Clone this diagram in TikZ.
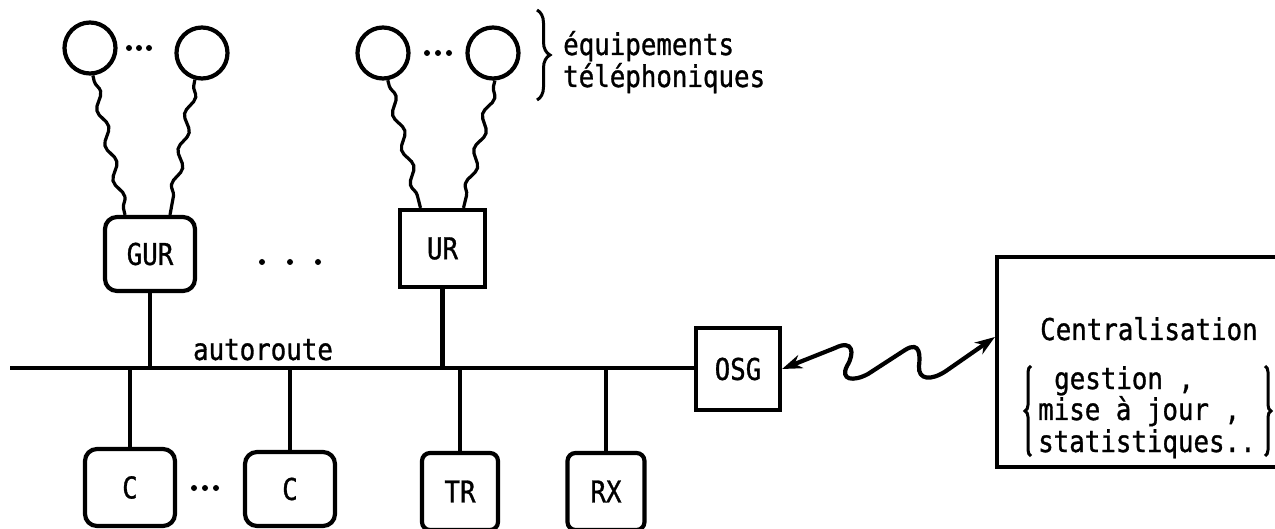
\documentclass[tikz,border=0pt]{standalone}
\usepackage{fontspec}
\newfontfamily\lblfont[FakeStretch=0.86,FakeBold=1]{DejaVu Sans Mono}
\usetikzlibrary{arrows.meta,decorations.pathmorphing,decorations.pathreplacing}
\tikzset{
  lw/.style={line width=4.2pt},
  lbl/.style={font=\lblfont\fontsize{30pt}{31pt}\selectfont, inner sep=0pt},
  rbox/.style={draw, line width=4.2pt, rounded corners=12pt, inner sep=0pt, font=\lblfont\fontsize{30pt}{31pt}\selectfont},
  sbox/.style={draw, line width=4.2pt, inner sep=0pt, font=\lblfont\fontsize{30pt}{31pt}\selectfont},
  equip/.style={draw, circle, line width=4.2pt, minimum size=51pt, inner sep=0pt},
  wire/.style={line width=3.2pt, decorate, decoration={snake, segment length=36pt, amplitude=4pt, pre length=6pt, post length=6pt}},
  link/.style={line width=4.2pt, {Stealth[length=20pt,width=14pt]}-{Stealth[length=20pt,width=14pt]}},
  dot/.style={circle, fill, inner sep=0pt, minimum size=6pt},
  bracel/.style={line width=3pt, decorate, decoration={brace, amplitude=#1}},
}
\begin{document}
\begin{tikzpicture}[x=1pt,y=-1pt]
\useasboundingbox (0,0) rectangle (1275,529);

% telephone equipment
\node[equip] (c1) at (90,48) {};
\node[equip] (c2) at (202,53) {};
\node[equip] (c3) at (383,53) {};
\node[equip] (c4) at (493,53) {};
\node[dot] (d1) at (129,48) {};
\node[dot] (d2) at (139,48) {};
\node[dot] (d3) at (149,48) {};
\node[dot] (d4) at (427,53) {};
\node[dot] (d5) at (438,53) {};
\node[dot] (d6) at (449,53) {};

% brace and label
\coordinate (bt) at (537,10);
\coordinate (bb) at (537,100);
\draw[bracel=13pt] (bt) -- (bb);
\node[lbl, anchor=base west] (eq1) at (563,55) {équipements};
\node[lbl, anchor=base west] (eq2) at (563,87) {téléphoniques};

% upper units
\node[rbox, minimum width=90pt, minimum height=74pt] (gur) at (150,254) {GUR};
\node[sbox, minimum width=85pt, minimum height=77pt] (ur) at (442.5,248.5) {UR};
\node[dot] (d7) at (262,262) {};
\node[dot] (d8) at (290,262) {};
\node[dot] (d9) at (318,262) {};

\draw[wire] (c1.-84) -- ([xshift=-25pt]gur.north);
\draw[wire] (c2.-105) -- ([xshift=20pt]gur.north);
\draw[wire] (c3.-80) -- ([xshift=-22pt]ur.north);
\draw[wire] (c4.-86) -- ([xshift=21pt]ur.north);

% OSG and bus
\node[sbox, minimum width=84pt, minimum height=82pt] (osg) at (738,369) {OSG};
\coordinate (busL) at (10,368);
\draw[lw] (busL) -- (busL -| osg.west);
\node[lbl, anchor=base] (auto) at (263,360) {autoroute};

\draw[lw] (gur.south) -- (gur.south |- busL);
\draw[lw] (ur.south) -- (ur.south |- busL);

% lower units
\node[rbox, minimum width=90pt, minimum height=77pt] (cc1) at (130,487.5) {C};
\node[rbox, minimum width=90pt, minimum height=74pt] (cc2) at (290,489) {C};
\node[rbox, rounded corners=8pt, minimum width=76pt, minimum height=77pt] (tr) at (460,491.5) {TR};
\node[rbox, rounded corners=8pt, minimum width=77pt, minimum height=77pt] (rx) at (606,491.5) {RX};
\node[dot] (d10) at (194,488) {};
\node[dot] (d11) at (205,488) {};
\node[dot] (d12) at (216,488) {};

\draw[lw] (cc1.north) -- (cc1.north |- busL);
\draw[lw] (cc2.north) -- (cc2.north |- busL);
\draw[lw] (tr.north) -- (tr.north |- busL);
\draw[lw] (rx.north) -- (rx.north |- busL);

% centralisation
\node[draw, line width=4.2pt, minimum width=303pt, minimum height=210pt, inner sep=0pt] (cent) at (1148.5,362) {};
\node[lbl, anchor=base west] (t1) at (1040,340) {Centralisation};
\node[lbl, anchor=base west] (t2) at (1054,389) {gestion ,};
\node[lbl, anchor=base west] (t3) at (1038,420) {mise à jour ,};
\node[lbl, anchor=base west] (t4) at (1038,452) {statistiques..};
\coordinate (lbb) at (1031,456);
\coordinate (lbt) at (1031,366);
\coordinate (rbt) at (1265,366);
\coordinate (rbb) at (1265,456);
\draw[bracel=6pt] (lbb) -- (lbt);
\draw[bracel=6pt] (rbt) -- (rbb);

\coordinate (cin) at (cent.west |- 0,337);
\draw[link] (osg.east) -- (835,348)
  .. controls (853,339) and (855,353) .. (847,366)
  .. controls (840,380) and (853,382) .. (868,374)
  -- (905,350)
  .. controls (921,340) and (920,357) .. (919,366)
  .. controls (918,380) and (931,381) .. (946,371)
  -- (cin);
\end{tikzpicture}
\end{document}
